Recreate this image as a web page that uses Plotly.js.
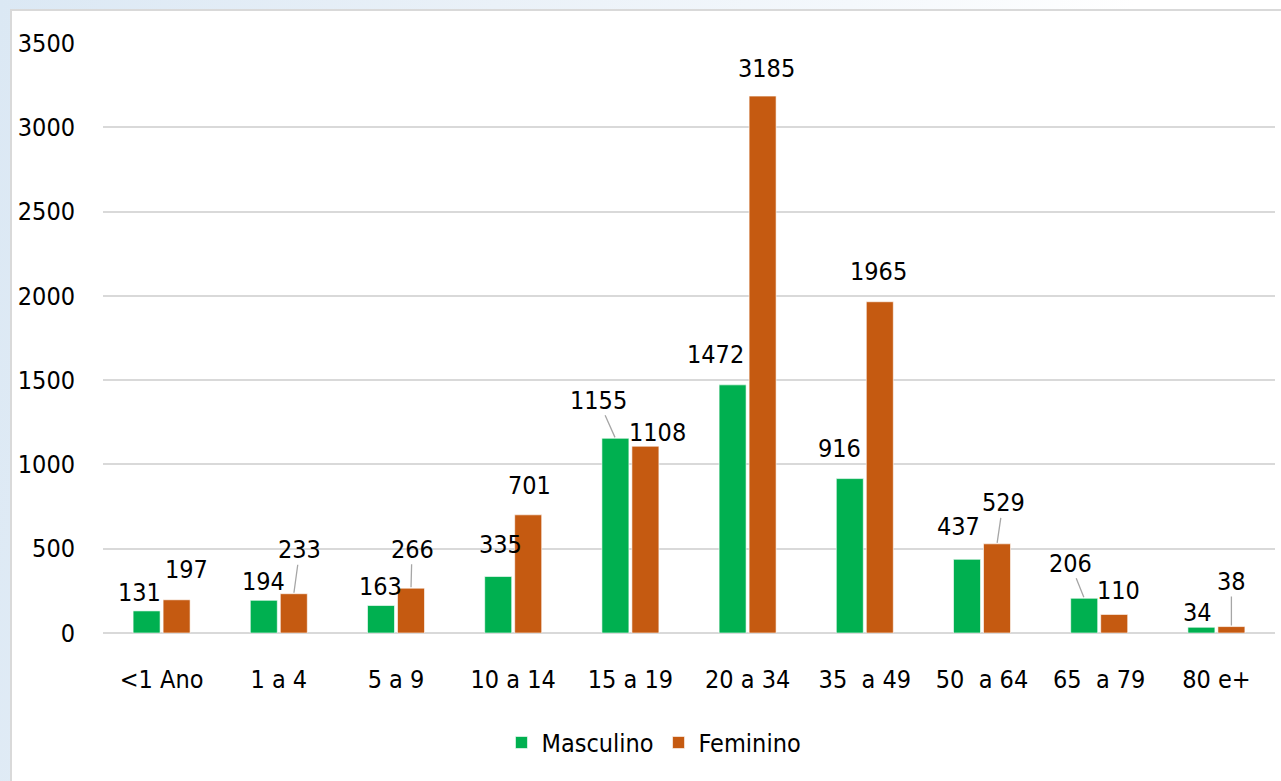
<!DOCTYPE html>
<html>
<head>
<meta charset="utf-8">
<script src="https://cdn.plot.ly/plotly-3.0.1.min.js"></script>
<style>
  html, body { margin: 0; padding: 0; width: 1281px; height: 781px; overflow: hidden; }
  body { background: linear-gradient(100deg, #dbe8f4 0%, #eaf1f8 35%, #f4f8fc 60%, #ffffff 80%); position: relative; }
  #frame { position: absolute; left: 10px; top: 9px; width: 1300px; height: 800px; background: #ffffff; border: 2px solid #d9d9d9; box-sizing: border-box; }
  #chart { position: absolute; left: 0; top: 0; width: 1281px; height: 781px; }
</style>
</head>
<body>
<div id="frame"></div>
<div id="chart"></div>
<script>
const categories = ['<1 Ano', '1 a 4', '5 a 9', '10 a 14', '15 a 19', '20 a 34', '35\u00a0 a 49', '50\u00a0 a 64', '65\u00a0 a 79', '80 e+'];
const masculino = [131, 194, 163, 335, 1155, 1472, 916, 437, 206, 34];
const feminino = [197, 233, 266, 701, 1108, 3185, 1965, 529, 110, 38];
const yTicks = [0, 500, 1000, 1500, 2000, 2500, 3000, 3500];

// label placement (pixel offsets of label centre from bar top, leader line flag)
const mascLabelPos = [[-7,18,0],[0,19,0],[-1,19,0],[2,32,0],[-17,38,1],[-17,30,0],[-10,30,0],[-9,33,0],[-14,35,1],[-4,15,0]];
const femLabelPos  = [[10,30,0],[6,44,1],[1,39,1],[1,29,0],[12,14,0],[4,28,0],[-1,30,0],[6,41,1],[4,24,0],[0,45,1]];

const FONT = '"DejaVu Sans Condensed", "Liberation Sans", sans-serif';
const FS = 25;
const GREEN = '#00B050';
const ORANGE = '#C55A11';
const BARGAP = 0.488, GROUPGAP = 0.1;
const half = (1 - BARGAP) / 4;

const idx = categories.map((c, i) => i);

const traces = [
  { type: 'bar', name: 'Masculino', x: idx, y: masculino,
    marker: { color: GREEN, line: { color: 'rgba(255,255,255,0.6)', width: 1 } }, hoverinfo: 'y' },
  { type: 'bar', name: 'Feminino', x: idx, y: feminino,
    marker: { color: ORANGE, line: { color: 'rgba(255,255,255,0.6)', width: 1 } }, hoverinfo: 'y' }
];

const annotations = [];
function addLabels(values, pos, off) {
  values.forEach((v, i) => {
    const p = pos[i];
    annotations.push({
      x: i + off, y: v, xref: 'x', yref: 'y',
      text: String(v), showarrow: true,
      ax: p[0], ay: -p[1], axref: 'pixel', ayref: 'pixel',
      arrowhead: 0, arrowwidth: 1.3, standoff: 1,
      arrowcolor: p[2] ? '#a6a6a6' : 'rgba(0,0,0,0)',
      font: { family: FONT, size: FS, color: '#000000' },
      borderpad: 0
    });
  });
}
addLabels(masculino, mascLabelPos, -half);
addLabels(feminino, femLabelPos, half);

const layout = {
  width: 1281, height: 781,
  paper_bgcolor: 'rgba(0,0,0,0)', plot_bgcolor: 'rgba(0,0,0,0)',
  margin: { l: 103, r: 6, t: 43, b: 148 },
  barmode: 'group', bargap: BARGAP, bargroupgap: GROUPGAP,
  font: { family: FONT, size: FS, color: '#000000' },
  showlegend: true,
  legend: { orientation: 'h', x: 0.34, xanchor: 'left', y: -0.186, yanchor: 'middle',
            font: { family: FONT, size: FS, color: '#000000' }, tracegroupgap: 0,
            bgcolor: 'rgba(0,0,0,0)' },
  xaxis: {
    type: 'linear', range: [-0.5, categories.length - 0.5],
    tickmode: 'array', tickvals: idx, ticktext: categories,
    ticks: 'outside', ticklen: 24, tickcolor: 'rgba(0,0,0,0)',
    showgrid: false, zeroline: false, showline: false,
    tickfont: { family: FONT, size: FS, color: '#000000' }, fixedrange: true
  },
  yaxis: {
    range: [0, 3500], tickmode: 'array', tickvals: yTicks,
    ticks: 'outside', ticklen: 22, tickcolor: 'rgba(0,0,0,0)',
    showgrid: true, gridcolor: '#d9d9d9', gridwidth: 2,
    zeroline: true, zerolinecolor: '#d9d9d9', zerolinewidth: 2,
    showline: false,
    tickfont: { family: FONT, size: FS, color: '#000000' }, fixedrange: true
  },
  annotations: annotations
};

Plotly.newPlot('chart', traces, layout, { displayModeBar: false, staticPlot: true });
</script>
</body>
</html>
